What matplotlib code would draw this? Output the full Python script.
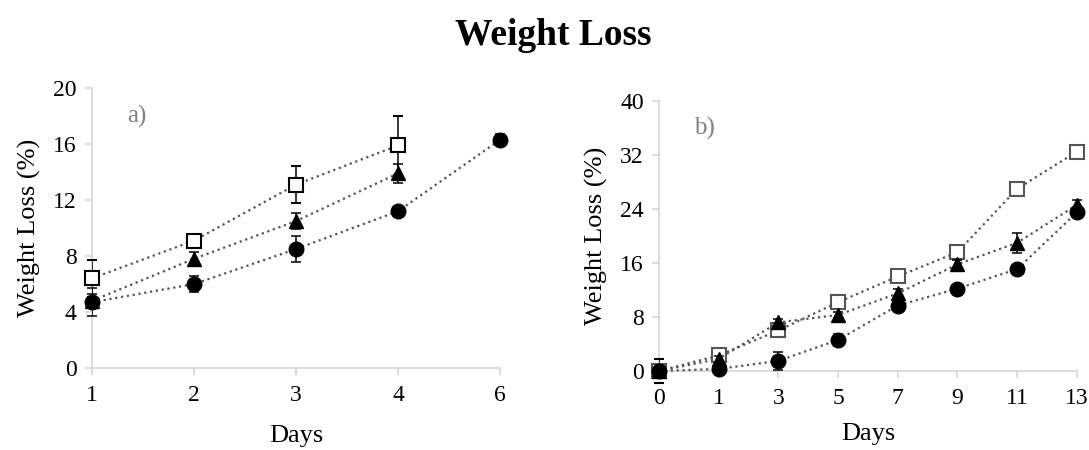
import numpy as np
import matplotlib
matplotlib.use("Agg")
import matplotlib.pyplot as plt

plt.rcParams['font.family'] = ['Liberation Serif', 'DejaVu Serif']

nan = np.nan

# panel a)
days_a = ['1', '2', '3', '4', '6']
sq_a = [6.4, 9.1, 13.1, 15.9, nan]
sq_a_err = [1.3, 0.3, 1.3, 2.1, nan]
tri_a = [4.8, 7.8, 10.5, 13.9, nan]
tri_a_err = [0.5, 0.5, 0.6, 0.7, nan]
cir_a = [4.7, 6.0, 8.5, 11.2, 16.3]
cir_a_err = [1.0, 0.6, 0.9, 0.4, 0.4]

# panel b)
days_b = ['0', '1', '3', '5', '7', '9', '11', '13']
sq_b = [0.0, 2.3, 6.0, 10.2, 14.0, 17.6, 27.0, 32.5]
sq_b_err = [1.8, 0.5, 0.8, 0.6, 0.6, 0.5, 0.5, 0.5]
tri_b = [0.0, 1.8, 7.2, 8.3, 11.5, 15.8, 19.0, 24.6]
tri_b_err = [0.4, 0.4, 0.5, 0.5, 0.6, 0.6, 1.5, 0.8]
cir_b = [0.0, 0.3, 1.5, 4.6, 9.7, 12.2, 15.1, 23.5]
cir_b_err = [0.3, 0.5, 1.3, 0.9, 0.5, 0.4, 0.4, 0.5]

fig = plt.figure(figsize=(10.89, 4.5), dpi=100)
fig.text(0.508, 0.922, 'Weight Loss', ha='center', va='center',
         fontsize=27, fontweight='bold')

spine_c = '#d9d9d9'
line_c = '#555555'


def panel(ax, days, series, ymax, ystep, tag, sq_edge, xpad):
    x = np.arange(len(days))
    (sq, sqe), (tr, tre), (ci, cie) = series
    common = dict(ls=':', lw=1.6, color=line_c, ecolor='black',
                  elinewidth=1.1, capsize=3.5, capthick=1.1)
    ax.errorbar(x, sq, yerr=sqe, marker='s', ms=10.5, mfc='white',
                mec=sq_edge, mew=1.5, zorder=3, **common)
    ax.errorbar(x, tr, yerr=tre, marker='^', ms=10.5, mfc='black',
                mec='black', zorder=4, **common)
    ax.errorbar(x, ci, yerr=cie, marker='o', ms=10.5, mfc='black',
                mec='black', zorder=5, **common)
    ax.set_xlim(0, len(days) - 1)
    ax.set_ylim(0, ymax)
    ax.set_xticks(x)
    ax.set_xticklabels(days)
    ax.set_yticks(np.arange(0, ymax + 0.1, ystep))
    for s in ['top', 'right']:
        ax.spines[s].set_visible(False)
    for s in ['left', 'bottom']:
        ax.spines[s].set_color(spine_c)
        ax.spines[s].set_linewidth(1.3)
        ax.spines[s].set_clip_on(False)
    ax.tick_params(axis='both', colors=spine_c, labelcolor='black',
                   labelsize=17, length=5, width=1.3, direction='out')
    ax.tick_params(axis='x', pad=7)
    ax.tick_params(axis='y', pad=6)
    ax.set_xlabel('Days', fontsize=19, labelpad=xpad)
    ax.set_ylabel('Weight Loss (%)', fontsize=19, labelpad=9)
    ax.text(0.11, 0.9, tag, transform=ax.transAxes, fontsize=18,
            color='#808080', ha='center', va='center')
    for ln in ax.lines:
        ln.set_clip_on(False)


ax1 = fig.add_axes([0.0845, 0.1822, 0.3747, 0.6222])
panel(ax1, days_a, [(sq_a, sq_a_err), (tri_a, tri_a_err), (cir_a, cir_a_err)],
      20, 4, 'a)', 'black', 14)

ax2 = fig.add_axes([0.6051, 0.1756, 0.3838, 0.6])
panel(ax2, days_b, [(sq_b, sq_b_err), (tri_b, tri_b_err), (cir_b, cir_b_err)],
      40, 8, 'b)', '#555555', 10)

fig.savefig('out.png', dpi=100)
